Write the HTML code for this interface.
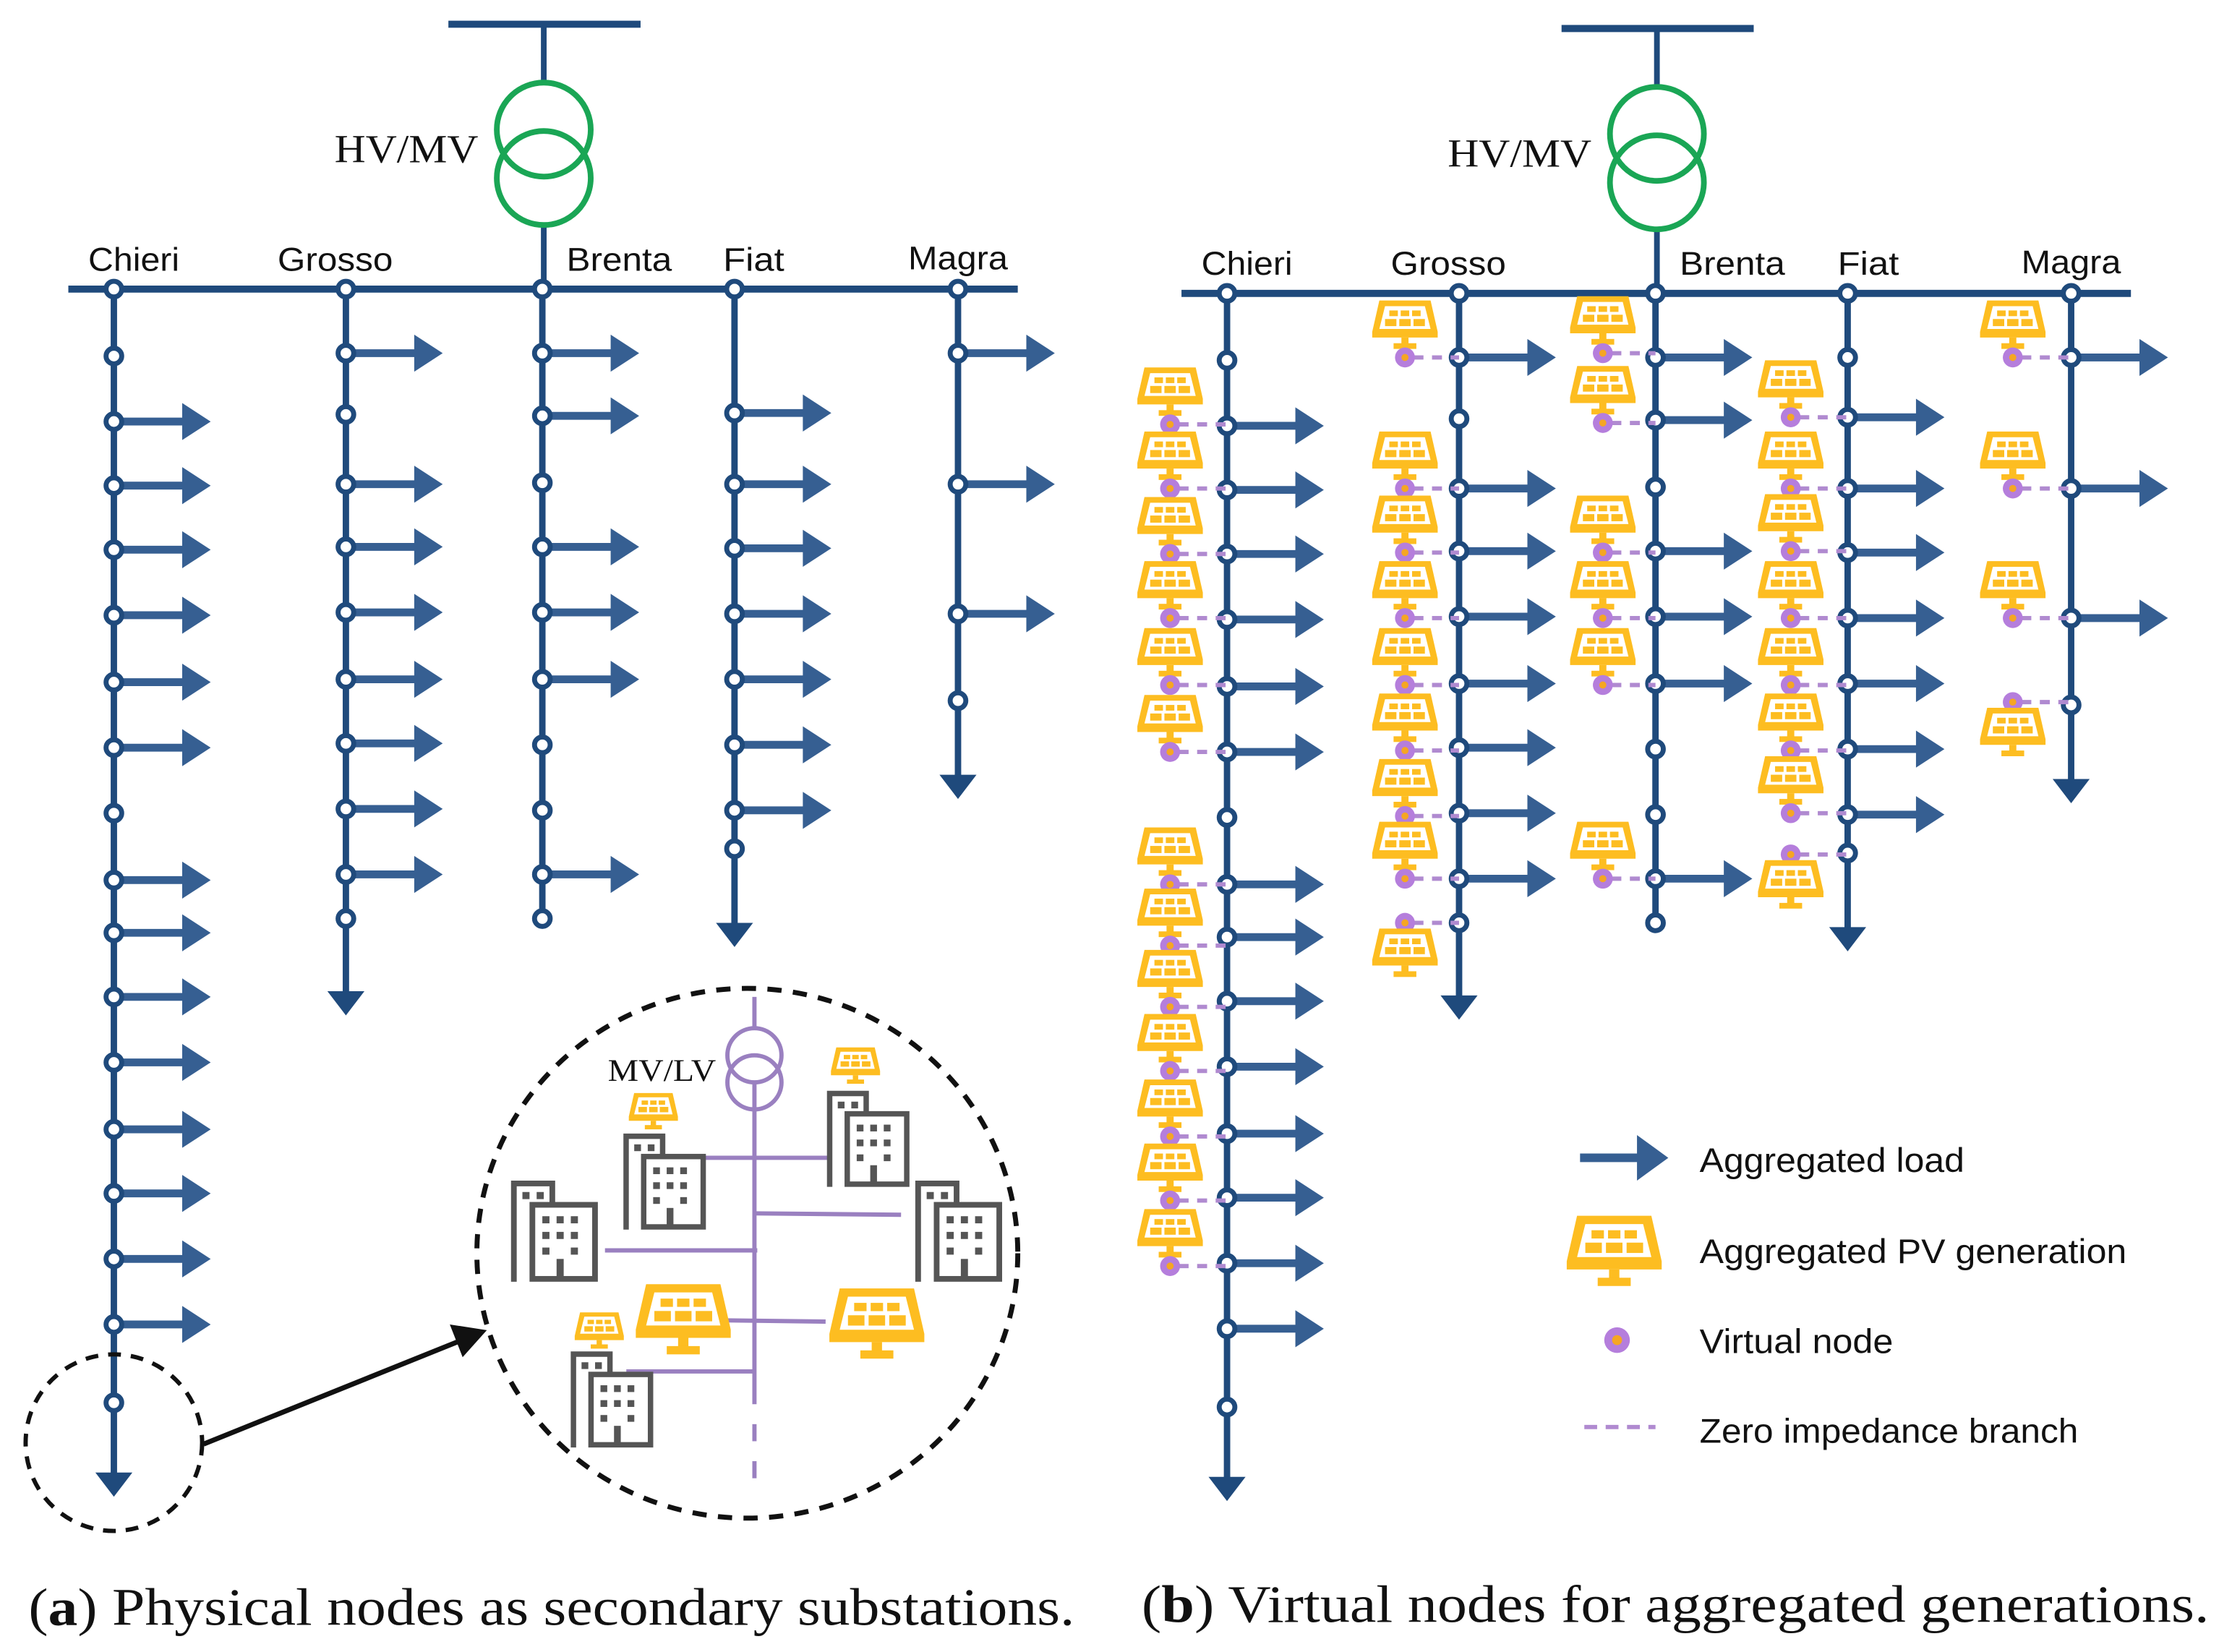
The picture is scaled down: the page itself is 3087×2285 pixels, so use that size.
<!DOCTYPE html>
<html><head><meta charset="utf-8"><style>html,body{margin:0;padding:0;background:#fff}svg{display:block}</style></head><body>
<svg width="3087" height="2285" viewBox="0 0 1568 1160" preserveAspectRatio="none" xmlns="http://www.w3.org/2000/svg" xmlns:xlink="http://www.w3.org/1999/xlink">
<defs>
<g id="ar"><line x1="0" y1="0" x2="50" y2="0" stroke="#365f92" stroke-width="5.5"/><polygon points="48,-13 68,0 48,13" fill="#365f92"/></g>
<circle id="nd" r="5.5" fill="#fff" stroke="#1f4a7c" stroke-width="3.5"/>
<g id="pv"><path d="M-18,-14 L18,-14 L23,8 L23,12 L-23,12 L-23,8 Z" fill="#fdbd21"/><path d="M-14,-10 L14,-10 L18,6 L-18,6 Z" fill="#fff"/><g fill="#fdbd21"><rect x="-11" y="-7" width="6" height="4"/><rect x="-3" y="-7" width="6" height="4"/><rect x="5" y="-7" width="6" height="4"/><rect x="-14" y="-1" width="8" height="5"/><rect x="-4" y="-1" width="8" height="5"/><rect x="6" y="-1" width="8" height="5"/></g><rect x="-2.5" y="12" width="5" height="5" fill="#fdbd21"/><rect x="-8" y="16" width="16" height="4" fill="#fdbd21"/></g>
<g id="vn"><circle r="7" fill="#b57edc"/><circle r="2.5" fill="#f5a623"/></g>
<g id="bd"><path d="M3,72 L3,3 L30,3 L30,18" fill="none" stroke="#555" stroke-width="4"/><rect x="16" y="18" width="44" height="52" fill="#fff" stroke="#555" stroke-width="4"/><g fill="#555"><rect x="9" y="9" width="5" height="5"/><rect x="19" y="9" width="5" height="5"/><rect x="23" y="26" width="5" height="5"/><rect x="33" y="26" width="5" height="5"/><rect x="43" y="26" width="5" height="5"/><rect x="23" y="37" width="5" height="5"/><rect x="33" y="37" width="5" height="5"/><rect x="43" y="37" width="5" height="5"/><rect x="23" y="48" width="5" height="5"/><rect x="43" y="48" width="5" height="5"/><rect x="33" y="56" width="5" height="14"/></g></g>
<g id="net">
<line x1="315" y1="17" x2="450" y2="17" stroke="#1f4a7c" stroke-width="5"/>
<line x1="382" y1="17" x2="382" y2="58" stroke="#1f4a7c" stroke-width="4"/>
<line x1="382" y1="158" x2="382" y2="203" stroke="#1f4a7c" stroke-width="4"/>
<circle cx="382" cy="91" r="33" fill="none" stroke="#1aa655" stroke-width="4"/>
<circle cx="382" cy="125" r="33" fill="none" stroke="#1aa655" stroke-width="4"/>
<line x1="48" y1="203" x2="715" y2="203" stroke="#1f4a7c" stroke-width="5"/>
<g stroke="#1f4a7c" stroke-width="4.5">
<line x1="80" y1="203" x2="80" y2="1038"/><line x1="243" y1="203" x2="243" y2="700"/><line x1="381" y1="203" x2="381" y2="645"/><line x1="516" y1="203" x2="516" y2="652"/><line x1="673" y1="203" x2="673" y2="548"/></g>
<g fill="#1f4a7c"><polygon points="67,1034 93,1034 80,1051"/><polygon points="230,696 256,696 243,713"/><polygon points="503,648 529,648 516,665"/><polygon points="660,544 686,544 673,561"/></g>
<g id="arrs">
<use href="#ar" x="80" y="296"/><use href="#ar" x="80" y="341"/><use href="#ar" x="80" y="386"/><use href="#ar" x="80" y="432"/><use href="#ar" x="80" y="479"/><use href="#ar" x="80" y="525"/><use href="#ar" x="80" y="618"/><use href="#ar" x="80" y="655"/><use href="#ar" x="80" y="700"/><use href="#ar" x="80" y="746"/><use href="#ar" x="80" y="793"/><use href="#ar" x="80" y="838"/><use href="#ar" x="80" y="884"/><use href="#ar" x="80" y="930"/>
<use href="#ar" x="243" y="248"/><use href="#ar" x="243" y="340"/><use href="#ar" x="243" y="384"/><use href="#ar" x="243" y="430"/><use href="#ar" x="243" y="477"/><use href="#ar" x="243" y="522"/><use href="#ar" x="243" y="568"/><use href="#ar" x="243" y="614"/>
<use href="#ar" x="381" y="248"/><use href="#ar" x="381" y="292"/><use href="#ar" x="381" y="384"/><use href="#ar" x="381" y="430"/><use href="#ar" x="381" y="477"/><use href="#ar" x="381" y="614"/>
<use href="#ar" x="516" y="290"/><use href="#ar" x="516" y="340"/><use href="#ar" x="516" y="385"/><use href="#ar" x="516" y="431"/><use href="#ar" x="516" y="477"/><use href="#ar" x="516" y="523"/><use href="#ar" x="516" y="569"/>
<use href="#ar" x="673" y="248"/><use href="#ar" x="673" y="340"/><use href="#ar" x="673" y="431"/>
</g>
<g>
<use href="#nd" x="80" y="203"/><use href="#nd" x="80" y="250"/><use href="#nd" x="80" y="296"/><use href="#nd" x="80" y="341"/><use href="#nd" x="80" y="386"/><use href="#nd" x="80" y="432"/><use href="#nd" x="80" y="479"/><use href="#nd" x="80" y="525"/><use href="#nd" x="80" y="571"/><use href="#nd" x="80" y="618"/><use href="#nd" x="80" y="655"/><use href="#nd" x="80" y="700"/><use href="#nd" x="80" y="746"/><use href="#nd" x="80" y="793"/><use href="#nd" x="80" y="838"/><use href="#nd" x="80" y="884"/><use href="#nd" x="80" y="930"/><use href="#nd" x="80" y="985"/>
<use href="#nd" x="243" y="203"/><use href="#nd" x="243" y="248"/><use href="#nd" x="243" y="291"/><use href="#nd" x="243" y="340"/><use href="#nd" x="243" y="384"/><use href="#nd" x="243" y="430"/><use href="#nd" x="243" y="477"/><use href="#nd" x="243" y="522"/><use href="#nd" x="243" y="568"/><use href="#nd" x="243" y="614"/><use href="#nd" x="243" y="645"/>
<use href="#nd" x="381" y="203"/><use href="#nd" x="381" y="248"/><use href="#nd" x="381" y="292"/><use href="#nd" x="381" y="339"/><use href="#nd" x="381" y="384"/><use href="#nd" x="381" y="430"/><use href="#nd" x="381" y="477"/><use href="#nd" x="381" y="523"/><use href="#nd" x="381" y="569"/><use href="#nd" x="381" y="614"/><use href="#nd" x="381" y="645"/>
<use href="#nd" x="516" y="203"/><use href="#nd" x="516" y="290"/><use href="#nd" x="516" y="340"/><use href="#nd" x="516" y="385"/><use href="#nd" x="516" y="431"/><use href="#nd" x="516" y="477"/><use href="#nd" x="516" y="523"/><use href="#nd" x="516" y="569"/><use href="#nd" x="516" y="596"/>
<use href="#nd" x="673" y="203"/><use href="#nd" x="673" y="248"/><use href="#nd" x="673" y="340"/><use href="#nd" x="673" y="431"/><use href="#nd" x="673" y="492"/>
</g>
</g>
</defs>

<use href="#net"/>
<g font-family="Liberation Sans, sans-serif" font-size="23" fill="#111" lengthAdjust="spacingAndGlyphs">
<text x="62" y="190" textLength="64" lengthAdjust="spacingAndGlyphs">Chieri</text><text x="195" y="190" textLength="81" lengthAdjust="spacingAndGlyphs">Grosso</text><text x="398" y="190" textLength="74" lengthAdjust="spacingAndGlyphs">Brenta</text><text x="508" y="190" textLength="43" lengthAdjust="spacingAndGlyphs">Fiat</text><text x="638" y="189" textLength="70" lengthAdjust="spacingAndGlyphs">Magra</text>
<text x="844" y="193" textLength="64" lengthAdjust="spacingAndGlyphs">Chieri</text><text x="977" y="193" textLength="81" lengthAdjust="spacingAndGlyphs">Grosso</text><text x="1180" y="193" textLength="74" lengthAdjust="spacingAndGlyphs">Brenta</text><text x="1291" y="193" textLength="43" lengthAdjust="spacingAndGlyphs">Fiat</text><text x="1420" y="192" textLength="70" lengthAdjust="spacingAndGlyphs">Magra</text>
</g>
<g font-family="Liberation Serif, serif" font-size="28" fill="#111">
<text x="235" y="114" textLength="101" lengthAdjust="spacingAndGlyphs">HV/MV</text><text x="1017" y="117" textLength="101" lengthAdjust="spacingAndGlyphs">HV/MV</text>
</g>

<circle cx="80" cy="1013" r="62" fill="none" stroke="#111" stroke-width="3" stroke-dasharray="9 7"/>
<line x1="143" y1="1014" x2="322" y2="942" stroke="#111" stroke-width="3.5"/>
<polygon points="342,934 316,930 325,953" fill="#111"/>
<ellipse cx="525" cy="880" rx="190" ry="186" fill="none" stroke="#111" stroke-width="3.5" stroke-dasharray="10 8"/>
<g stroke="#9a80c0" stroke-width="3" fill="none">
<line x1="530" y1="700" x2="530" y2="986"/>
<line x1="530" y1="1000" x2="530" y2="1012" /><line x1="530" y1="1026" x2="530" y2="1038"/>
<circle cx="530" cy="741" r="19" fill="#fff"/><circle cx="530" cy="760" r="19"/>
<line x1="472" y1="813" x2="582" y2="813"/><line x1="531" y1="852" x2="633" y2="853"/><line x1="425" y1="878" x2="532" y2="878"/><line x1="500" y1="927" x2="580" y2="928"/><line x1="440" y1="963" x2="530" y2="963"/>
</g>
<text x="427" y="759" font-family="Liberation Serif, serif" font-size="22" fill="#111" textLength="76" lengthAdjust="spacingAndGlyphs">MV/LV</text>
<use href="#bd" transform="translate(358,828)"/>
<use href="#bd" transform="translate(437,795) scale(0.95)"/>
<use href="#bd" transform="translate(580,765) scale(0.95)"/>
<use href="#bd" transform="translate(642,828)"/>
<use href="#bd" transform="translate(400,948) scale(0.95)"/>
<use href="#pv" transform="translate(459,778) scale(0.75)"/>
<use href="#pv" transform="translate(601,746) scale(0.75)"/>
<use href="#pv" transform="translate(421,932) scale(0.75)"/>
<use href="#pv" transform="translate(480,922) scale(1.45)"/>
<use href="#pv" transform="translate(616,925) scale(1.45)"/>

<g transform="translate(782,3)"><use href="#net"/><use href="#nd" x="516" y="248"/></g>
<g stroke="#b08ad0" stroke-width="3" stroke-dasharray="7 6">
<line x1="828" y1="298" x2="862" y2="298"/><line x1="828" y1="343" x2="862" y2="343"/><line x1="828" y1="389" x2="862" y2="389"/><line x1="828" y1="434" x2="862" y2="434"/><line x1="828" y1="481" x2="862" y2="481"/><line x1="828" y1="528" x2="862" y2="528"/>
<line x1="828" y1="621" x2="862" y2="621"/><line x1="828" y1="664" x2="862" y2="664"/><line x1="828" y1="707" x2="862" y2="707"/><line x1="828" y1="752" x2="862" y2="752"/><line x1="828" y1="798" x2="862" y2="798"/><line x1="828" y1="843" x2="862" y2="843"/><line x1="828" y1="889" x2="862" y2="889"/>
<line x1="993" y1="251" x2="1025" y2="251"/><line x1="993" y1="343" x2="1025" y2="343"/><line x1="993" y1="388" x2="1025" y2="388"/><line x1="993" y1="434" x2="1025" y2="434"/><line x1="993" y1="481" x2="1025" y2="481"/><line x1="993" y1="527" x2="1025" y2="527"/><line x1="993" y1="573" x2="1025" y2="573"/><line x1="993" y1="617" x2="1025" y2="617"/><line x1="993" y1="648" x2="1025" y2="648"/>
<line x1="1132" y1="248" x2="1163" y2="248"/><line x1="1132" y1="297" x2="1163" y2="297"/><line x1="1132" y1="388" x2="1163" y2="388"/><line x1="1132" y1="434" x2="1163" y2="434"/><line x1="1132" y1="481" x2="1163" y2="481"/><line x1="1132" y1="617" x2="1163" y2="617"/>
<line x1="1264" y1="293" x2="1298" y2="293"/><line x1="1264" y1="343" x2="1298" y2="343"/><line x1="1264" y1="387" x2="1298" y2="387"/><line x1="1264" y1="434" x2="1298" y2="434"/><line x1="1264" y1="481" x2="1298" y2="481"/><line x1="1264" y1="527" x2="1298" y2="527"/><line x1="1264" y1="571" x2="1298" y2="571"/><line x1="1264" y1="600" x2="1298" y2="600"/>
<line x1="1420" y1="251" x2="1455" y2="251"/><line x1="1420" y1="343" x2="1455" y2="343"/><line x1="1420" y1="434" x2="1455" y2="434"/><line x1="1420" y1="493" x2="1455" y2="493"/>
</g>
<g>
<use href="#pv" x="822" y="272"/><use href="#vn" x="822" y="298"/><use href="#pv" x="822" y="317"/><use href="#vn" x="822" y="343"/><use href="#pv" x="822" y="363"/><use href="#vn" x="822" y="389"/><use href="#pv" x="822" y="408"/><use href="#vn" x="822" y="434"/><use href="#pv" x="822" y="455"/><use href="#vn" x="822" y="481"/><use href="#pv" x="822" y="502"/><use href="#vn" x="822" y="528"/>
<use href="#pv" x="822" y="595"/><use href="#vn" x="822" y="621"/><use href="#pv" x="822" y="638"/><use href="#vn" x="822" y="664"/><use href="#pv" x="822" y="681"/><use href="#vn" x="822" y="707"/><use href="#pv" x="822" y="726"/><use href="#vn" x="822" y="752"/><use href="#pv" x="822" y="772"/><use href="#vn" x="822" y="798"/><use href="#pv" x="822" y="817"/><use href="#vn" x="822" y="843"/><use href="#pv" x="822" y="863"/><use href="#vn" x="822" y="889"/>
<use href="#pv" x="987" y="225"/><use href="#vn" x="987" y="251"/><use href="#pv" x="987" y="317"/><use href="#vn" x="987" y="343"/><use href="#pv" x="987" y="362"/><use href="#vn" x="987" y="388"/><use href="#pv" x="987" y="408"/><use href="#vn" x="987" y="434"/><use href="#pv" x="987" y="455"/><use href="#vn" x="987" y="481"/><use href="#pv" x="987" y="501"/><use href="#vn" x="987" y="527"/><use href="#pv" x="987" y="547"/><use href="#vn" x="987" y="573"/><use href="#pv" x="987" y="591"/><use href="#vn" x="987" y="617"/><use href="#vn" x="987" y="648"/><use href="#pv" x="987" y="666"/>
<use href="#pv" x="1126" y="222"/><use href="#vn" x="1126" y="248"/><use href="#pv" x="1126" y="271"/><use href="#vn" x="1126" y="297"/><use href="#pv" x="1126" y="362"/><use href="#vn" x="1126" y="388"/><use href="#pv" x="1126" y="408"/><use href="#vn" x="1126" y="434"/><use href="#pv" x="1126" y="455"/><use href="#vn" x="1126" y="481"/><use href="#pv" x="1126" y="591"/><use href="#vn" x="1126" y="617"/>
<use href="#pv" x="1258" y="267"/><use href="#vn" x="1258" y="293"/><use href="#pv" x="1258" y="317"/><use href="#vn" x="1258" y="343"/><use href="#pv" x="1258" y="361"/><use href="#vn" x="1258" y="387"/><use href="#pv" x="1258" y="408"/><use href="#vn" x="1258" y="434"/><use href="#pv" x="1258" y="455"/><use href="#vn" x="1258" y="481"/><use href="#pv" x="1258" y="501"/><use href="#vn" x="1258" y="527"/><use href="#pv" x="1258" y="545"/><use href="#vn" x="1258" y="571"/><use href="#vn" x="1258" y="600"/><use href="#pv" x="1258" y="618"/>
<use href="#pv" x="1414" y="225"/><use href="#vn" x="1414" y="251"/><use href="#pv" x="1414" y="317"/><use href="#vn" x="1414" y="343"/><use href="#pv" x="1414" y="408"/><use href="#vn" x="1414" y="434"/><use href="#vn" x="1414" y="493"/><use href="#pv" x="1414" y="511"/>
</g>

<line x1="1110" y1="813" x2="1152" y2="813" stroke="#365f92" stroke-width="6"/>
<polygon points="1150,797 1172,813 1150,829" fill="#365f92"/>
<use href="#pv" transform="translate(1134,874) scale(1.45)"/>
<circle cx="1136" cy="941" r="9" fill="#b57edc"/><circle cx="1136" cy="941" r="3.5" fill="#f5a623"/>
<line x1="1113" y1="1002" x2="1163" y2="1002" stroke="#b08ad0" stroke-width="3" stroke-dasharray="9 6"/>
<g font-family="Liberation Sans, sans-serif" font-size="24" fill="#111">
<text x="1194" y="823" textLength="186" lengthAdjust="spacingAndGlyphs">Aggregated load</text>
<text x="1194" y="887" textLength="300" lengthAdjust="spacingAndGlyphs">Aggregated PV generation</text>
<text x="1194" y="950" textLength="136" lengthAdjust="spacingAndGlyphs">Virtual node</text>
<text x="1194" y="1013" textLength="266" lengthAdjust="spacingAndGlyphs">Zero impedance branch</text>
</g>

<g font-family="Liberation Serif, serif" font-size="37" fill="#111">
<text x="20" y="1141" textLength="735" lengthAdjust="spacingAndGlyphs">(<tspan font-weight="bold">a</tspan>) Physical nodes as secondary substations.</text>
<text x="802" y="1139" textLength="750" lengthAdjust="spacingAndGlyphs">(<tspan font-weight="bold">b</tspan>) Virtual nodes for aggregated generations.</text>
</g>
</svg>
</body></html>
